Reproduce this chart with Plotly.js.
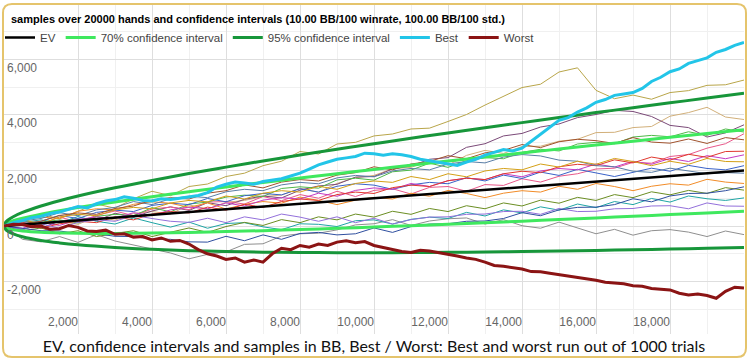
<!DOCTYPE html>
<html>
<head>
<meta charset="utf-8">
<script src="https://cdn.plot.ly/plotly-3.0.1.min.js"></script>
<style>html,body{margin:0;padding:0;background:#fff;}#chart{width:750px;height:361px;}</style>
</head>
<body>
<div id="chart"></div>
<script>
// ---- data ----
const chartTitle = "samples over 20000 hands and confidence intervals (10.00 BB/100 winrate, 100.00 BB/100 std.)";
const caption = "EV, confidence intervals and samples in BB, Best / Worst: Best and worst run out of 1000 trials";

const xTickVals = [2000, 4000, 6000, 8000, 10000, 12000, 14000, 16000, 18000];
const xTickText = ["2,000", "4,000", "6,000", "8,000", "10,000", "12,000", "14,000", "16,000", "18,000"];
const yTickVals = [-2000, 0, 2000, 4000, 6000];
const yTickText = ["-2,000", "0", "2,000", "4,000", "6,000"];

const ciHands = [0,50,100,250,500,1000,1500,2000,3000,4000,5000,6000,7000,8000,9000,10000,11000,12000,13000,14000,15000,16000,17000,18000,19000,20000];
const ev        = [0,5,10,25,50,100,150,200,300,400,500,600,700,800,900,1000,1100,1200,1300,1400,1500,1600,1700,1800,1900,2000];
const ci95Upper = [0,144,206,335,488,720,909,1077,1373,1640,1886,2118,2340,2553,2759,2960,3156,3347,3535,3719,3900,4079,4255,4430,4602,4772];
const ci95Lower = [0,-134,-186,-285,-388,-520,-609,-677,-773,-840,-886,-918,-940,-953,-959,-960,-956,-947,-935,-919,-900,-879,-855,-830,-802,-772];
const ci70Upper = [0,78,114,189,282,428,551,663,867,1055,1233,1402,1567,1727,1883,2036,2187,2335,2481,2626,2769,2910,3051,3190,3328,3465];
const ci70Lower = [0,-68,-94,-139,-182,-228,-251,-263,-267,-255,-233,-202,-167,-127,-83,-36,13,65,119,174,231,290,349,410,472,535];

const extremeHands = [0,250,500,750,1000,1250,1500,1750,2000,2250,2500,2750,3000,3250,3500,3750,4000,4250,4500,4750,5000,5250,5500,5750,6000,6250,6500,6750,7000,7250,7500,7750,8000,8250,8500,8750,9000,9250,9500,9750,10000,10250,10500,10750,11000,11250,11500,11750,12000,12250,12500,12750,13000,13250,13500,13750,14000,14250,14500,14750,15000,15250,15500,15750,16000,16250,16500,16750,17000,17250,17500,17750,18000,18250,18500,18750,19000,19250,19500,19750,20000];
const best  = [0,120,200,300,350,450,500,600,700,650,800,900,950,1050,1000,920,900,980,950,1000,1050,1100,1200,1400,1500,1580,1550,1500,1600,1650,1700,1800,1900,2050,2200,2300,2400,2450,2500,2620,2600,2550,2600,2560,2500,2400,2350,2300,2250,2180,2300,2400,2550,2650,2750,2700,2800,3050,3300,3550,3800,3900,4100,4250,4450,4550,4700,4750,4800,4950,5200,5350,5550,5650,5850,5950,6050,6250,6350,6500,6600];
const worst = [0,60,50,-30,0,-120,-100,20,-50,-180,-200,-150,-300,-280,-400,-380,-500,-430,-550,-520,-650,-850,-1000,-1080,-1200,-1150,-1300,-1220,-1300,-1000,-800,-850,-700,-760,-650,-700,-580,-530,-600,-560,-700,-780,-850,-920,-950,-870,-900,-960,-1000,-1080,-1150,-1200,-1300,-1420,-1450,-1500,-1550,-1640,-1650,-1700,-1750,-1780,-1850,-1900,-1950,-2020,-2050,-2080,-2150,-2170,-2250,-2280,-2300,-2420,-2480,-2450,-2500,-2600,-2350,-2200,-2230];

const sampleHands = [0,500,1000,1500,2000,2500,3000,3500,4000,4500,5000,5500,6000,6500,7000,7500,8000,8500,9000,9500,10000,10500,11000,11500,12000,12500,13000,13500,14000,14500,15000,15500,16000,16500,17000,17500,18000,18500,19000,19500,20000];
const sampleOlive  = [0,180,420,260,530,790,640,980,1250,1090,1420,1510,1780,1900,2170,2330,2680,2590,2950,3010,3240,3310,3490,3520,3760,4010,4350,4660,4980,5100,5540,5690,4880,4580,4710,4560,4800,4870,5060,5080,5250];
const sampleTan    = [0,-140,80,170,60,340,210,450,520,430,760,610,850,920,1060,1110,1360,1210,1530,1740,1820,2060,2110,2340,2190,2540,2720,2610,2860,2870,3050,3120,3360,3370,3540,3580,3950,4080,4270,3920,3830];
const samplePlum   = [0,140,-80,180,260,190,460,320,540,690,560,840,730,960,1080,1010,1290,1440,1500,1760,1780,2050,2160,2400,2460,2830,2960,3240,3330,3560,3670,3900,4010,4160,4120,3940,3620,3540,3200,3350,3640];
const samplePink   = [0,190,60,320,150,380,540,370,610,680,590,860,880,790,1060,910,1130,1000,1250,1060,1280,1340,1150,1390,1420,1250,1490,1460,1700,1580,1790,1880,2050,2080,2290,2260,2500,2570,2800,2960,3320];
const sampleGreen  = [0,-130,140,220,110,350,420,370,660,510,790,860,1040,1110,1060,1350,1410,1360,1660,1720,1650,1950,2010,2260,2110,2350,2460,2420,2650,2760,2700,2950,3010,2960,3200,3260,3210,3390,3260,3490,3380];
const sampleGrey   = [0,-480,-570,-380,-590,-310,-540,-680,-830,-970,-1180,-1020,-930,-660,-640,-360,-280,-260,-140,40,80,230,20,180,260,290,70,230,10,-80,140,-60,-280,-120,-330,-170,-130,-220,-380,-180,-310];
const sampleTeal   = [0,130,220,110,340,170,70,290,120,-40,140,-80,90,120,-30,-130,80,60,-20,190,220,70,240,320,270,490,360,580,470,690,570,790,660,880,770,990,860,1080,980,920,1010];
const sampleBlue   = [0,80,170,380,270,490,570,520,740,820,770,990,870,1090,1170,1120,1340,1220,1430,1520,1470,1320,1480,1570,1520,1740,1620,1830,1710,1940,1820,2040,1910,1780,1930,2080,1970,2180,2070,2020,2170];
const sampleOrange = [0,230,320,270,530,620,580,780,870,820,670,830,610,780,880,820,1040,920,770,930,1030,970,1180,1070,1280,1170,1020,1180,1270,1220,1430,1320,1530,1420,1270,1430,1520,1470,1680,1580,1530];
const sampleMagenta= [0,-80,130,20,230,330,270,480,370,580,680,620,830,720,930,1020,970,1180,1070,1280,1370,1320,1530,1420,1630,1720,1670,1880,1770,1980,2070,2020,2230,2120,2330,2220,2430,2320,2530,2420,2560];
const sampleRed    = [0,130,-80,80,170,120,330,220,430,520,470,680,570,780,670,880,970,920,1130,1220,1170,1380,1470,1420,1630,1720,1670,1880,1970,1920,2130,2220,2170,2380,2270,2480,2370,2580,2470,2680,2690];
const sampleOliveDrab = [0,-180,-70,-280,-170,-380,-270,-170,-380,-220,-70,-230,-20,130,20,230,120,330,220,430,320,530,420,630,520,730,620,830,720,930,820,1030,920,1130,1020,1230,1120,1280,1170,1380,1290];
const sampleSlate  = [0,180,270,480,370,580,670,880,770,980,1070,1020,1230,1320,1270,1480,1570,1520,1730,1820,1770,1980,2070,2020,2230,2320,2270,2480,2570,2520,2370,2330,2170,2130,1970,1930,2080,1970,1880,1920,1900];
const sampleBrown  = [0,80,170,380,470,420,630,720,930,1020,970,1180,1270,1480,1370,1580,1670,1620,1830,1920,2130,2020,2230,2320,2530,2420,2630,2720,2930,2820,3030,3120,3070,2970,3180,3020,2980,3130,2970,3180,3100];
const sampleViolet = [0,-130,80,-80,130,220,170,380,270,170,130,280,120,330,220,430,320,170,330,120,280,70,230,320,330,420,430,520,530,420,630,520,530,620,630,720,730,620,830,720,710];
const sampleGold   = [0,230,70,330,420,370,580,670,620,830,920,870,1080,970,1180,1270,1220,1430,1320,1530,1620,1570,1780,1670,1880,1770,1980,2070,2020,2230,2120,2330,2220,2430,2320,2170,2330,2220,2430,2320,2310];
const sampleNavy   = [0,-80,-170,-180,-270,-280,-370,-380,-470,-480,-570,-580,-370,-530,-320,-480,-270,-230,-320,-280,-70,-230,-20,70,80,170,180,270,480,370,580,670,680,770,980,870,1080,1170,1180,1270,1410];

const samples = [
  [sampleOlive, '#b9a64a'], [sampleTan, '#d2b07a'], [samplePlum, '#7b4a78'], [samplePink, '#e8588a'],
  [sampleGreen, '#4fb848'], [sampleGrey, '#8f8f8f'], [sampleTeal, '#1fa5a5'], [sampleBlue, '#3a62c8'],
  [sampleOrange, '#f28c28'], [sampleMagenta, '#c43bc4'], [sampleRed, '#e0382e'], [sampleOliveDrab, '#6b8e23'],
  [sampleSlate, '#5a7ea6'], [sampleBrown, '#a0522d'], [sampleViolet, '#9370db'], [sampleGold, '#d4a017'],
  [sampleNavy, '#2f4f9f']
];

// ---- traces ----
const traces = [];
samples.forEach(([ys, c]) => {
  traces.push({x: sampleHands, y: ys, type: 'scatter', mode: 'lines', line: {color: c, width: 1}, showlegend: false, hoverinfo: 'skip'});
});
traces.push({x: ciHands, y: ev, name: 'EV', type: 'scatter', mode: 'lines', line: {color: '#000000', width: 2.5}});
traces.push({x: ciHands, y: ci70Upper, name: '70% confidence interval', legendgroup: 'c70', type: 'scatter', mode: 'lines', line: {color: '#3fe85e', width: 3, shape: 'spline'}});
traces.push({x: ciHands, y: ci70Lower, name: '70% confidence interval', legendgroup: 'c70', showlegend: false, type: 'scatter', mode: 'lines', line: {color: '#3fe85e', width: 3, shape: 'spline'}});
traces.push({x: ciHands, y: ci95Upper, name: '95% confidence interval', legendgroup: 'c95', type: 'scatter', mode: 'lines', line: {color: '#17963a', width: 3, shape: 'spline'}});
traces.push({x: ciHands, y: ci95Lower, name: '95% confidence interval', legendgroup: 'c95', showlegend: false, type: 'scatter', mode: 'lines', line: {color: '#17963a', width: 3, shape: 'spline'}});
traces.push({x: extremeHands, y: best, name: 'Best', type: 'scatter', mode: 'lines', line: {color: '#22c5e8', width: 3}});
traces.push({x: extremeHands, y: worst, name: 'Worst', type: 'scatter', mode: 'lines', line: {color: '#8b1414', width: 3}});

// ---- frame (pixel geometry of rounded border) ----
const W = 750, H = 361, mL = 4, mR = 6, mT = 5, mB = 27;
const pw = W - mL - mR, ph = H - mT - mB;
const px = v => ((v - mL) / pw).toFixed(5);
const py = v => ((H - mB - v) / ph).toFixed(5);
const fl = 3, fr = 746, ft = 4, fb = 357, rad = 9;
const framePath = `M ${px(fl+rad)},${py(ft)} L ${px(fr-rad)},${py(ft)} Q ${px(fr)},${py(ft)} ${px(fr)},${py(ft+rad)} L ${px(fr)},${py(fb-rad)} Q ${px(fr)},${py(fb)} ${px(fr-rad)},${py(fb)} L ${px(fl+rad)},${py(fb)} Q ${px(fl)},${py(fb)} ${px(fl)},${py(fb-rad)} L ${px(fl)},${py(ft+rad)} Q ${px(fl)},${py(ft)} ${px(fl+rad)},${py(ft)} Z`;

const tickFont = {family: 'Liberation Sans, Arial, sans-serif', size: 12, color: '#666666'};

const layout = {
  width: W, height: H,
  margin: {l: mL, r: mR, t: mT, b: mB, pad: 0, autoexpand: false},
  paper_bgcolor: '#ffffff', plot_bgcolor: '#ffffff',
  title: {
    text: chartTitle,
    font: {family: 'Liberation Sans, Arial, sans-serif', size: 11, color: '#000000', weight: 'bold'},
    xref: 'container', yref: 'container', x: 11 / W, xanchor: 'left', y: 1 - 19 / H, yanchor: 'middle',
    automargin: false
  },
  showlegend: true,
  legend: {
    orientation: 'h', xref: 'container', yref: 'container', x: 0, xanchor: 'left', y: 1 - 23 / H, yanchor: 'top',
    font: {family: 'Liberation Sans, Arial, sans-serif', size: 11.5, color: '#444444'},
    bgcolor: 'rgba(0,0,0,0)', itemwidth: 30, traceorder: 'normal'
  },
  xaxis: {
    range: [0, 20000], tickmode: 'array', tickvals: xTickVals, ticktext: xTickText,
    ticklabelposition: 'inside left', ticks: '', showline: false, zeroline: false,
    showgrid: true, gridcolor: '#dedede', gridwidth: 1,
    minor: {tickmode: 'linear', tick0: 0, dtick: 1000, showgrid: true, gridcolor: '#f0f0f0', ticks: ''},
    tickfont: tickFont, automargin: false,
    title: {text: caption, font: {family: 'Lato, sans-serif', size: 16, color: '#111111'}, standoff: 13}
  },
  yaxis: {
    range: [-3885, 7950], tickmode: 'array', tickvals: yTickVals, ticktext: yTickText,
    ticklabelposition: 'inside bottom', ticks: '', showline: false, zeroline: false,
    showgrid: true, gridcolor: '#dedede', gridwidth: 1,
    minor: {tickmode: 'linear', tick0: 0, dtick: 1000, showgrid: true, gridcolor: '#f0f0f0', ticks: ''},
    tickfont: tickFont, automargin: false
  },
  shapes: [{type: 'path', xref: 'paper', yref: 'paper', path: framePath, line: {color: '#e5c46c', width: 2}, fillcolor: 'rgba(0,0,0,0)', layer: 'above'}]
};

Plotly.newPlot('chart', traces, layout, {displayModeBar: false, staticPlot: true});
</script>
</body>
</html>
